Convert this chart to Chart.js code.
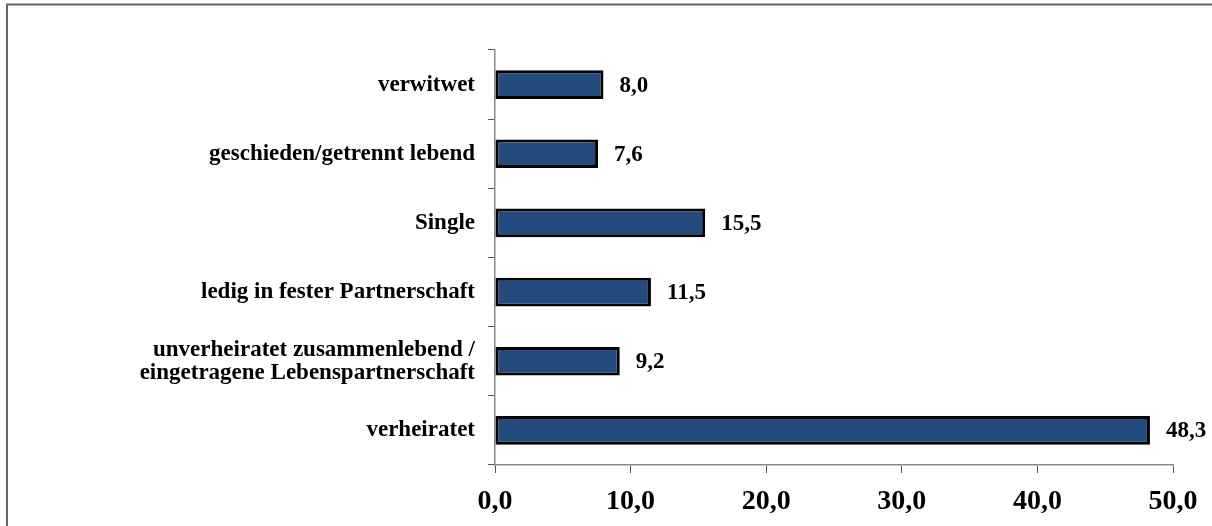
<!DOCTYPE html>
<html>
<head>
<meta charset="utf-8">
<script src="https://cdn.jsdelivr.net/npm/chart.js@4"></script>
<style>
    html, body { margin: 0; padding: 0; background: #fff; }
    #wrap { width: 1212px; height: 526px; position: relative; }
</style>
</head>
<body>
<div id="wrap"><canvas id="barChart" width="1212" height="526"></canvas></div>
<script>
// data
var categories = [
    'verwitwet',
    'geschieden/getrennt lebend',
    'Single',
    'ledig in fester Partnerschaft',
    ['unverheiratet zusammenlebend /', 'eingetragene Lebenspartnerschaft'],
    'verheiratet'
];
var values = [8.0, 7.6, 15.5, 11.5, 9.2, 48.3];
var xTicks = [0, 10, 20, 30, 40, 50];

function fmt(v) {
    return v.toFixed(1).replace('.', ',');
}

// thin frame round the chart (only left and top are visible)
var framePlugin = {
    id: 'frame',
    beforeDraw: function (chart) {
        var ctx = chart.ctx;
        ctx.save();
        ctx.strokeStyle = '#666666';
        ctx.lineWidth = 2;
        ctx.beginPath();
        ctx.moveTo(7, 530);
        ctx.lineTo(7, 4.5);
        ctx.lineTo(1220, 4.5);
        ctx.stroke();
        ctx.restore();
    }
};

// value labels to the right of the bars
var valueLabels = {
    id: 'valueLabels',
    afterDatasetsDraw: function (chart) {
        var ctx = chart.ctx;
        var meta = chart.getDatasetMeta(0);
        ctx.save();
        ctx.font = 'bold 23px "Liberation Serif"';
        ctx.fillStyle = '#000';
        ctx.textAlign = 'left';
        ctx.textBaseline = 'middle';
        meta.data.forEach(function (bar, i) {
            ctx.fillText(fmt(values[i]), bar.x + 16, bar.y + 1);
        });
        ctx.restore();
    }
};

Chart.defaults.font.family = '"Liberation Serif", serif';
Chart.defaults.color = '#000';

var ctx = document.getElementById('barChart').getContext('2d');
var barChart = new Chart(ctx, {
    type: 'bar',
    data: {
        labels: categories,
        datasets: [{
            data: values,
            backgroundColor: '#234b7d',
            borderColor: '#000000',
            borderWidth: 3,
            borderSkipped: false,
            barPercentage: 0.415,
            categoryPercentage: 1
        }]
    },
    options: {
        indexAxis: 'y',
        responsive: false,
        animation: false,
        layout: {
            padding: { left: 0, right: 39, top: 50, bottom: 0 }
        },
        plugins: {
            legend: { display: false },
            tooltip: { enabled: false }
        },
        scales: {
            x: {
                min: xTicks[0],
                max: xTicks[xTicks.length - 1],
                afterBuildTicks: function (scale) {
                    scale.ticks = xTicks.map(function (v) { return { value: v }; });
                },
                afterFit: function (scale) {
                    scale.paddingLeft = 0;
                    scale.paddingRight = 0;
                    scale.height = 61;
                },
                grid: {
                    drawOnChartArea: false,
                    tickLength: 8,
                    color: '#555555',
                    lineWidth: 1
                },
                border: { color: '#8a8a8a', width: 1.5 },
                ticks: {
                    padding: 12,
                    font: { size: 28, weight: 'bold' },
                    callback: function (v) { return fmt(v); }
                }
            },
            y: {
                afterFit: function (scale) {
                    scale.paddingTop = 0;
                    scale.paddingBottom = 0;
                    scale.width = 495;
                },
                grid: {
                    drawOnChartArea: false,
                    offset: true,
                    tickLength: 7,
                    color: '#555555',
                    lineWidth: 1
                },
                border: { color: '#8a8a8a', width: 1.5 },
                ticks: {
                    padding: 13,
                    font: { size: 23, weight: 'bold', lineHeight: 1.0 }
                }
            }
        }
    },
    plugins: [framePlugin, valueLabels]
});
</script>
</body>
</html>
